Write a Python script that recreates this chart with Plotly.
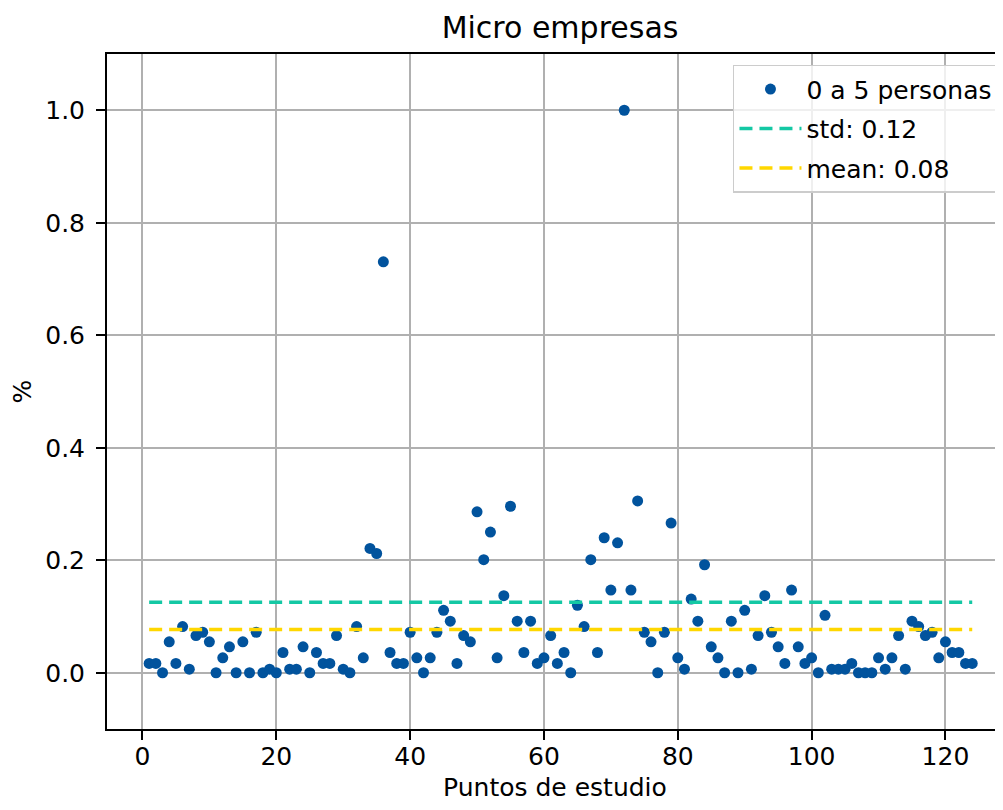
"""Micro empresas: proporción de 0 a 5 personas por punto de estudio."""

import plotly.graph_objects as go

# Puntos de estudio (1..124) y valor leído para cada uno.
PUNTOS = list(range(1, 125))
PORCENTAJE = [
    0.0165, 0.0165, 0.0, 0.055, 0.0165, 0.082, 0.0064, 0.066, 0.072, 0.055,
    0.0, 0.0266, 0.046, 0.0, 0.055, 0.0, 0.072, 0.0, 0.0064, 0.0,
    0.036, 0.0064, 0.0064, 0.046, 0.0, 0.036, 0.0165, 0.0165, 0.066, 0.0064,
    0.0, 0.082, 0.0266, 0.221, 0.212, 0.7306, 0.036, 0.0165, 0.0165, 0.072,
    0.0266, 0.0, 0.0266, 0.072, 0.111, 0.0917, 0.0165, 0.066, 0.055, 0.286,
    0.201, 0.250, 0.0266, 0.137, 0.296, 0.0917, 0.036, 0.0917, 0.0165, 0.0266,
    0.066, 0.0165, 0.036, 0.0, 0.120, 0.082, 0.201, 0.036, 0.240, 0.147,
    0.231, 1.0, 0.147, 0.3055, 0.072, 0.055, 0.0, 0.072, 0.266, 0.0266,
    0.0064, 0.131, 0.0917, 0.192, 0.046, 0.0266, 0.0, 0.0917, 0.0, 0.111,
    0.0064, 0.066, 0.137, 0.072, 0.046, 0.0165, 0.147, 0.046, 0.0165, 0.0266,
    0.0, 0.102, 0.0064, 0.0064, 0.0064, 0.0165, 0.0, 0.0, 0.0, 0.0266,
    0.0064, 0.0266, 0.066, 0.0064, 0.0917, 0.082, 0.066, 0.072, 0.0266, 0.055,
    0.036, 0.036, 0.0165, 0.0165,
]

# Líneas de referencia (valor dibujado y etiqueta de la leyenda).
STD_VALOR = 0.1254
MEDIA_VALOR = 0.0769
STD_ETIQUETA = "std: 0.12"
MEDIA_ETIQUETA = "mean: 0.08"

X_TICKS = [0, 20, 40, 60, 80, 100, 120]
Y_TICKS = [0.0, 0.2, 0.4, 0.6, 0.8, 1.0]

FUENTE = "DejaVu Sans"
AZUL = "#01539d"
TURQUESA = "#14c8a4"
DORADO = "#ffd700"

fig = go.Figure()

fig.add_trace(
    go.Scatter(
        x=PUNTOS,
        y=PORCENTAJE,
        mode="markers",
        name="0 a 5 personas",
        legendgroup="puntos",
        marker={"color": AZUL, "size": 11},
    )
)

# Las líneas de referencia van de primer a último punto de estudio.
extremos = [PUNTOS[0], PUNTOS[-1]]
for valor, etiqueta, color in [
    (STD_VALOR, STD_ETIQUETA, TURQUESA),
    (MEDIA_VALOR, MEDIA_ETIQUETA, DORADO),
]:
    fig.add_trace(
        go.Scatter(
            x=extremos,
            y=[valor, valor],
            mode="lines",
            name=etiqueta,
            legendgroup=etiqueta,
            line={"color": color, "width": 3.6, "dash": "13px,7px"},
        )
    )

eje = {
    "showline": True,
    "linecolor": "black",
    "linewidth": 2,
    "ticks": "outside",
    "ticklen": 9,
    "tickwidth": 2,
    "tickcolor": "black",
    "showgrid": True,
    "gridcolor": "#b0b0b0",
    "gridwidth": 2,
    "zeroline": False,
    "automargin": False,
    "tickfont": {"size": 25, "color": "black"},
}

fig.update_xaxes(
    **eje,
    mirror=True,
    range=[-5.3, 128.6],
    tickvals=X_TICKS,
    ticklabelstandoff=-5,
    title={"text": "Puntos de estudio", "font": {"size": 25, "color": "black"}, "standoff": 17},
)
fig.update_yaxes(
    **eje,
    range=[-0.1, 1.1],
    tickvals=Y_TICKS,
    tickformat=".1f",
    ticklabelstandoff=6,
    title={"text": "%", "font": {"size": 25, "color": "black"}, "standoff": 6},
)

# La página añade 8 px de margen al cuerpo: la figura se ajusta para no desbordar.
fig.update_layout(
    width=995,
    height=794,
    template="plotly_white",
    paper_bgcolor="white",
    plot_bgcolor="white",
    font={"family": FUENTE, "color": "black"},
    margin={"l": 99, "r": 0, "t": 46, "b": 73},
    title={
        "text": "Micro empresas",
        "x": 0.5056,
        "xref": "paper",
        "xanchor": "center",
        "y": 0.975,
        "yref": "container",
        "yanchor": "middle",
        "font": {"size": 30, "color": "black"},
    },
    legend={
        "x": 0.9955,
        "y": 0.984,
        "xanchor": "right",
        "yanchor": "top",
        "bgcolor": "rgba(255,255,255,0.8)",
        "bordercolor": "#cccccc",
        "borderwidth": 1.5,
        "tracegroupgap": 4,
        "itemwidth": 62,
        "font": {"size": 25, "color": "black"},
    },
    showlegend=True,
)

fig.write_html("out.html")
